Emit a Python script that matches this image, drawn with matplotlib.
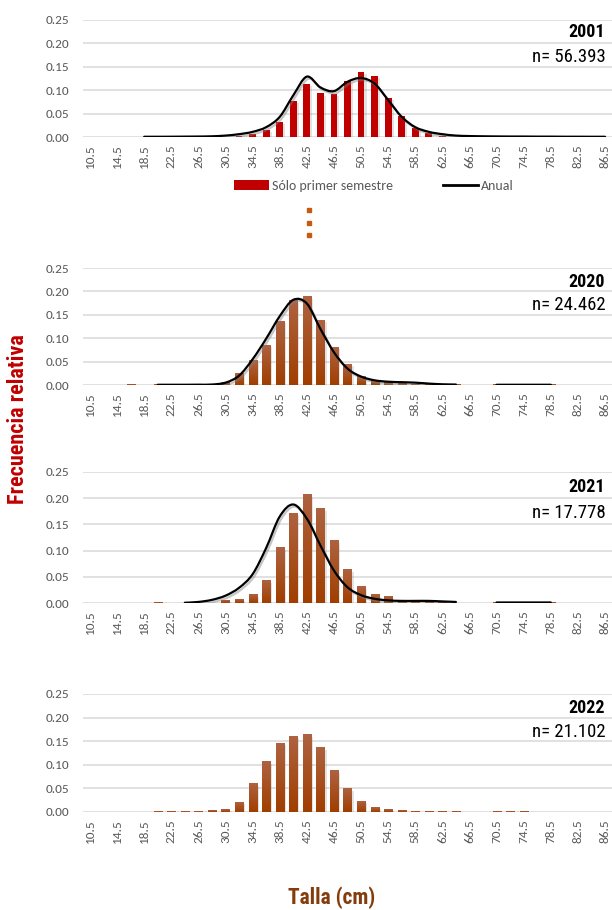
import numpy as np
import matplotlib.pyplot as plt
import matplotlib.patheffects as pe
from matplotlib.path import Path
from matplotlib.patches import PathPatch, Patch
from matplotlib.lines import Line2D
from matplotlib.colors import LinearSegmentedColormap

nan = np.nan

# talla (cm), one class every 2 cm
tallas = [10.5, 12.5, 14.5, 16.5, 18.5, 20.5, 22.5, 24.5, 26.5, 28.5,
          30.5, 32.5, 34.5, 36.5, 38.5, 40.5, 42.5, 44.5, 46.5, 48.5,
          50.5, 52.5, 54.5, 56.5, 58.5, 60.5, 62.5, 64.5, 66.5, 68.5,
          70.5, 72.5, 74.5, 76.5, 78.5, 80.5, 82.5, 84.5, 86.5]
tick_tallas = tallas[::2]

# 2001: first semester bars + annual line
bars_2001 = [0, 0, 0, 0, 0.0005, 0, 0, 0, 0, 0,
             0.001, 0.002, 0.007, 0.016, 0.033, 0.077, 0.114, 0.093, 0.091, 0.119,
             0.138, 0.130, 0.084, 0.045, 0.020, 0.008, 0.002, 0.001, 0, 0,
             0, 0, 0, 0, 0, 0, 0, 0, 0]
line_2001 = [nan, nan, nan, nan, 0.0005, 0.0005, 0.0006, 0.0008, 0.001, 0.0015,
             0.003, 0.006, 0.011, 0.021, 0.043, 0.089, 0.129, 0.106, 0.098, 0.118,
             0.126, 0.114, 0.079, 0.043, 0.021, 0.011, 0.006, 0.003, 0.002, 0.0015,
             0.0012, 0.001, 0.001, 0.0008, 0.0008, 0.0006, 0.0006, 0.0005, 0.0005]

bars_2020 = [0, 0, 0, 0.002, 0, 0.001, 0, 0.001, 0.001, 0.001,
             0.005, 0.025, 0.053, 0.085, 0.136, 0.180, 0.189, 0.138, 0.081, 0.044,
             0.018, 0.010, 0.006, 0.004, 0.002, 0.001, 0.001, 0.002, 0, 0,
             0.002, 0.002, 0.002, 0.002, 0.002, 0, 0, 0, 0]
line_2020 = [nan, nan, nan, nan, nan, 0.0005, 0.0005, 0.0005, 0.0007, 0.001,
             0.005, 0.020, 0.055, 0.099, 0.147, 0.182, 0.174, 0.120, 0.070, 0.035,
             0.018, 0.010, 0.007, 0.006, 0.005, 0.003, 0.0015, 0.001, nan, nan,
             0.0005, 0.0005, 0.0005, 0.0005, 0.0005, nan, nan, nan, nan]

bars_2021 = [0, 0, 0, 0, 0, 0.001, 0, 0, 0, 0,
             0.005, 0.007, 0.016, 0.043, 0.106, 0.171, 0.207, 0.180, 0.119, 0.064,
             0.031, 0.016, 0.012, 0.004, 0.002, 0.002, 0.002, 0, 0, 0,
             0.001, 0.001, 0.001, 0.001, 0.001, 0, 0, 0, 0]
line_2021 = [nan, nan, nan, nan, nan, nan, nan, 0.0005, 0.002, 0.006,
             0.014, 0.029, 0.055, 0.105, 0.165, 0.188, 0.161, 0.110, 0.062, 0.030,
             0.015, 0.008, 0.005, 0.004, 0.004, 0.004, 0.003, 0.002, nan, nan,
             0.001, 0.001, 0.001, 0.001, 0.001, nan, nan, nan, nan]

bars_2022 = [0, 0, 0, 0, 0, 0.002, 0.002, 0.002, 0.002, 0.004,
             0.006, 0.021, 0.060, 0.107, 0.146, 0.161, 0.164, 0.136, 0.088, 0.049,
             0.023, 0.010, 0.006, 0.004, 0.002, 0.002, 0.002, 0.002, 0, 0,
             0.002, 0.002, 0.002, 0, 0, 0, 0, 0, 0]

years = ["2001", "2020", "2021", "2022"]
n_labels = ["n= 56.393", "n= 24.462", "n= 17.778", "n= 21.102"]

W, H = 612, 910
GRAY = "#595959"
NARROW = ["Roboto Condensed", "DejaVu Sans"]
CALIBRI = ["Carlito", "DejaVu Sans"]


def smooth_path(x, y):
    # Catmull-Rom to cubic bezier, like Excel's smoothed line
    verts = [(x[0], y[0])]
    codes = [Path.MOVETO]
    n = len(x)
    for i in range(n - 1):
        xa, ya = (x[i - 1], y[i - 1]) if i > 0 else (x[i], y[i])
        xd, yd = (x[i + 2], y[i + 2]) if i + 2 < n else (x[i + 1], y[i + 1])
        c1 = (x[i] + (x[i + 1] - xa) / 6, y[i] + (y[i + 1] - ya) / 6)
        c2 = (x[i + 1] - (xd - x[i]) / 6, y[i + 1] - (yd - y[i]) / 6)
        verts += [c1, c2, (x[i + 1], y[i + 1])]
        codes += [Path.CURVE4] * 3
    return Path(verts, codes)


def draw_line(ax, values):
    x = np.array(tallas)
    y = np.array(values, dtype=float)
    idx = np.where(~np.isnan(y))[0]
    # split into runs of valid points
    runs = np.split(idx, np.where(np.diff(idx) > 1)[0] + 1)
    for r in runs:
        if len(r) < 2:
            continue
        patch = PathPatch(
            smooth_path(x[r], y[r]), facecolor="none", edgecolor="black",
            lw=1.6, zorder=4, capstyle="round",
            path_effects=[pe.SimpleLineShadow(offset=(1.2, -1.5), shadow_color="gray", alpha=0.45),
                          pe.Normal()],
        )
        ax.add_patch(patch)


def draw_bars(ax, values, width, top, bottom):
    bars = ax.bar(
        tallas, values, width=width, color=bottom, zorder=2,
        path_effects=[pe.SimplePatchShadow(offset=(1.5, -1.5), shadow_rgbFace="#808080", alpha=0.22),
                      pe.Normal()],
    )
    if top == bottom:
        return
    cmap = LinearSegmentedColormap.from_list("grad", [bottom, top])
    grad = np.linspace(0, 1, 64).reshape(-1, 1)
    for b in bars:
        h = b.get_height()
        if h <= 0:
            continue
        x0 = b.get_x()
        ax.imshow(grad, extent=[x0, x0 + b.get_width(), 0, h], origin="lower",
                  cmap=cmap, aspect="auto", zorder=2.1, interpolation="bilinear")


fig = plt.figure(figsize=(W / 100, H / 100), dpi=100)

# pixel extents of each plot area (top gridline, zero line)
panels_px = [(20, 137), (268, 385), (472, 603), (694, 812)]
text_px = [(32, 57), (282, 305), (487, 513), (708, 732)]
ax_left, ax_right = 83.2, 611.8

all_bars = [bars_2001, bars_2020, bars_2021, bars_2022]
all_lines = [line_2001, line_2020, line_2021, None]

for k, (ytop, ybot) in enumerate(panels_px):
    ax = fig.add_axes([ax_left / W, 1 - ybot / H, (ax_right - ax_left) / W, (ybot - ytop) / H])
    if k == 0:
        draw_bars(ax, all_bars[k], 1.0, "#C00000", "#C00000")
    else:
        draw_bars(ax, all_bars[k], 1.2, "#AE6240", "#A03E00")
    if all_lines[k] is not None:
        draw_line(ax, all_lines[k])

    ax.set_xlim(9.5, 87.5)
    ax.set_ylim(0, 0.25)
    ax.set_yticks([0, 0.05, 0.10, 0.15, 0.20, 0.25])
    ax.set_yticklabels(["0.00", "0.05", "0.10", "0.15", "0.20", "0.25"])
    ax.set_xticks(tick_tallas)
    ax.set_xticklabels([f"{t}" for t in tick_tallas], rotation=90)
    ax.grid(axis="y", color="#D9D9D9", lw=1.1, zorder=0)
    ax.set_axisbelow(True)
    for s in ax.spines.values():
        s.set_visible(False)
    ax.tick_params(axis="y", length=0, pad=10, labelsize=9.5, labelcolor=GRAY)
    ax.tick_params(axis="x", length=0, pad=5, labelsize=9.5, labelcolor=GRAY)
    for lab in ax.get_xticklabels() + ax.get_yticklabels():
        lab.set_family(CALIBRI)

    fig.text(605 / W, 1 - text_px[k][0] / H, years[k], ha="right", va="center",
             fontsize=13, fontweight="bold", family=NARROW)
    fig.text(606 / W, 1 - text_px[k][1] / H, n_labels[k], ha="right", va="center",
             fontsize=13.5, family=NARROW)

# legend of the first panel
handles = [Patch(facecolor="#C00000", edgecolor="none"),
           Line2D([], [], color="black", lw=2)]
fig.legend(handles, ["Sólo primer semestre", "Anual"], loc="center",
           bbox_to_anchor=(374 / W, 1 - 186 / H), ncol=2, frameon=False,
           handlelength=2.5, handletextpad=0.25, columnspacing=3.6,
           prop={"family": CALIBRI, "size": 10}, labelcolor=GRAY)

# vertical dots between 2001 and 2020
fig.add_artist(Line2D([309 / W] * 3, [1 - 210 / H, 1 - 223 / H, 1 - 235 / H],
                      transform=fig.transFigure, ls="none", marker="s",
                      markersize=3.2, color="#C55A11"))

fig.text(18 / W, 1 - 419 / H, "Frecuencia relativa", rotation=90, ha="center", va="center",
         fontsize=16, fontweight="bold", color="#C00000", family=NARROW)
fig.text(332 / W, 1 - 898 / H, "Talla (cm)", ha="center", va="center",
         fontsize=15.5, fontweight="bold", color="#843C0C", family=NARROW)

fig.savefig("out.png", dpi=100)
